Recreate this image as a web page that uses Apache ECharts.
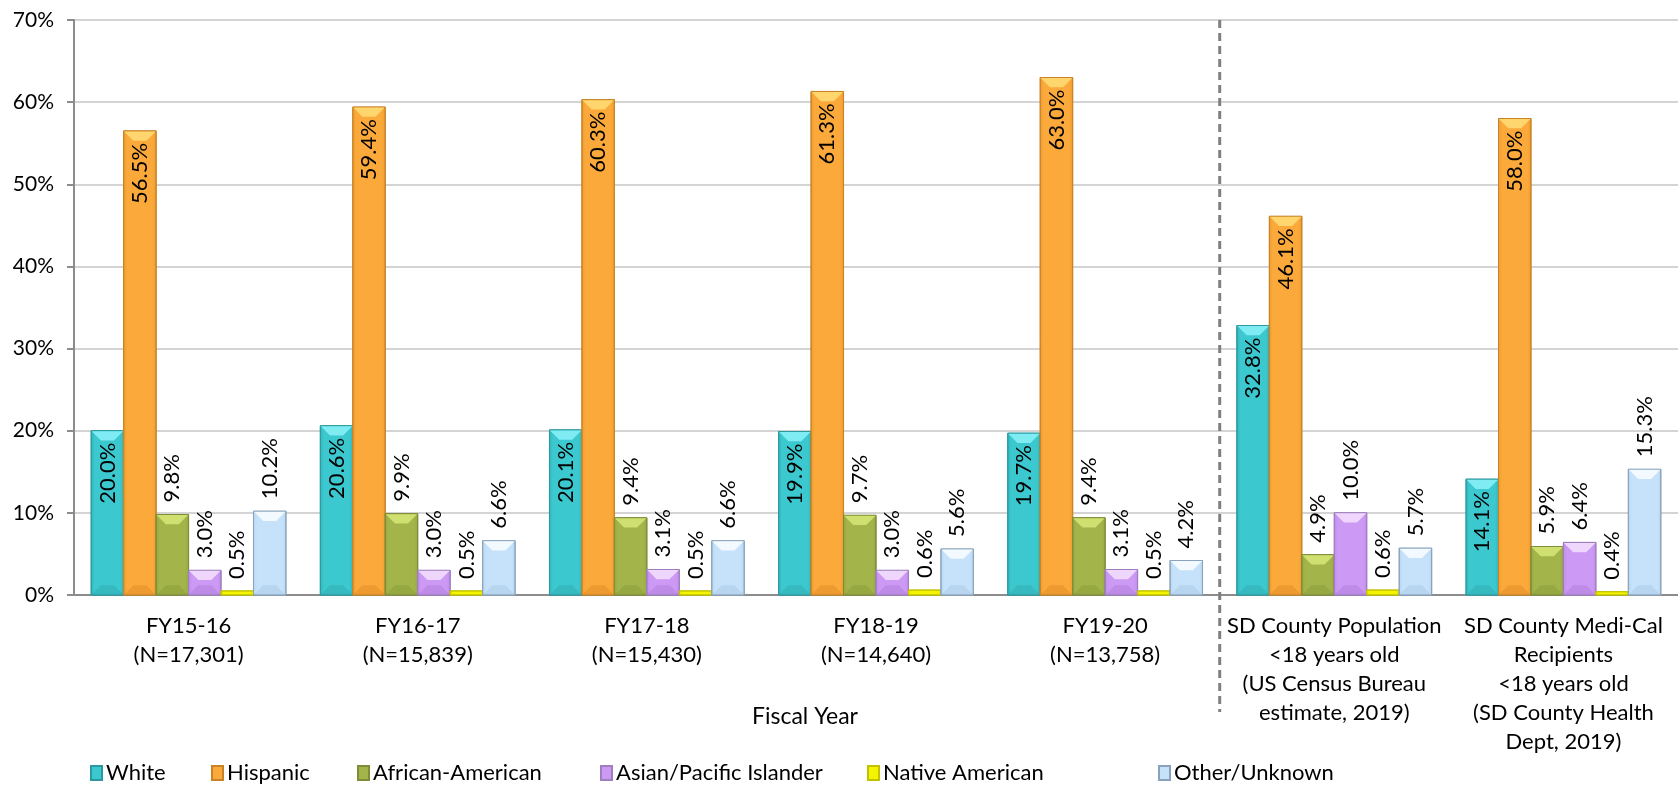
<!DOCTYPE html>
<html>
<head>
<meta charset="utf-8">
<title>Race/Ethnicity by Fiscal Year</title>
<script src="https://cdn.jsdelivr.net/npm/echarts@6/dist/echarts.min.js"></script>
<style>
  html, body { margin: 0; padding: 0; background: #ffffff; }
  #chart { width: 1678px; height: 789px; }
</style>
</head>
<body>
<div id="chart"></div>
<script>
// Categories along the x axis (fiscal years, then county comparison groups)
const categories = [
  'FY15-16\n(N=17,301)',
  'FY16-17\n(N=15,839)',
  'FY17-18\n(N=15,430)',
  'FY18-19\n(N=14,640)',
  'FY19-20\n(N=13,758)',
  'SD County Population\n<18 years old\n(US Census Bureau\nestimate, 2019)',
  'SD County Medi-Cal\nRecipients\n<18 years old\n(SD County Health\nDept, 2019)'
];

// Percent of clients by race/ethnicity
const white         = [20.0, 20.6, 20.1, 19.9, 19.7, 32.8, 14.1];
const hispanic      = [56.5, 59.4, 60.3, 61.3, 63.0, 46.1, 58.0];
const africanAm     = [9.8, 9.9, 9.4, 9.7, 9.4, 4.9, 5.9];
const asianPacific  = [3.0, 3.0, 3.1, 3.0, 3.1, 10.0, 6.4];
const nativeAm      = [0.5, 0.5, 0.5, 0.6, 0.5, 0.6, 0.4];
const otherUnknown  = [10.2, 6.6, 6.6, 5.6, 4.2, 5.7, 15.3];

const seriesNames = ['White', 'Hispanic', 'African-American', 'Asian/Pacific Islander', 'Native American', 'Other/Unknown'];
const seriesValues = [white, hispanic, africanAm, asianPacific, nativeAm, otherUnknown];

// Y axis ticks (percent)
const yMin = 0, yMax = 70, yStep = 10;
const xAxisTitle = 'Fiscal Year';

// Bevel palette per series: body, top facet, bottom facet, edge
const palette = [
  { body: '#3cc8cf', top: '#7eecf2', bottom: '#2fa9b0', edge: '#2a9aa0', dark: '#33b3ba' },
  { body: '#fba93b', top: '#ffd66e', bottom: '#e08e25', edge: '#c98327', dark: '#ee9b2e' },
  { body: '#a3b44a', top: '#cfe070', bottom: '#8a9b37', edge: '#7e8d38', dark: '#97a842' },
  { body: '#cc99f5', top: '#efd6fc', bottom: '#b07ed9', edge: '#9e7fbd', dark: '#bf8ce9' },
  { body: '#f4f400', top: '#ffff66', bottom: '#d6d600', edge: '#c2c200', dark: '#e6e600' },
  { body: '#c6e2fa', top: '#f2f9ff', bottom: '#a9c8e6', edge: '#8aa2bb', dark: '#b8d5f0' }
];

const FONT = 'Lato';
const LABEL_SIZE = 22;

function makeRenderer(si) {
  const pal = palette[si];
  const inside = si < 2;
  return function (params, api) {
    const ci = api.value(0);
    const v = api.value(1);
    const base = api.coord([ci, 0]);
    const topPt = api.coord([ci, v]);
    const cw = api.size([1, 0])[0];
    const bw = cw * 0.85 / 6;
    const x0 = base[0] - 3 * bw + si * bw;
    const x1 = x0 + bw;
    const xc = (x0 + x1) / 2;
    const y0 = topPt[1];
    const y1 = base[1];
    const h = y1 - y0;
    const b = Math.min(bw * 0.3, h / 2);
    const children = [
      {
        type: 'rect',
        shape: { x: x0, y: y0, width: bw, height: h },
        style: {
          fill: new echarts.graphic.LinearGradient(0, 0, 1, 0, [
            { offset: 0, color: pal.dark },
            { offset: 0.12, color: pal.body },
            { offset: 0.88, color: pal.body },
            { offset: 1, color: pal.dark }
          ]),
          stroke: pal.edge,
          lineWidth: 1
        }
      }
    ];
    if (h > 6) {
      children.push({
        type: 'polygon',
        shape: { points: [[x0 + 0.5, y0 + 0.5], [x1 - 0.5, y0 + 0.5], [x1 - b, y0 + b], [x0 + b, y0 + b]] },
        style: { fill: pal.top }
      });
      children.push({
        type: 'polygon',
        shape: { points: [[x0 + 0.5, y1 - 0.5], [x1 - 0.5, y1 - 0.5], [x1 - b, y1 - b], [x0 + b, y1 - b]] },
        style: { fill: pal.bottom, opacity: 0.5 }
      });
    }
    children.push({
      type: 'text',
      x: xc,
      y: inside ? y0 + 12 : y0 - 12,
      rotation: Math.PI / 2,
      style: {
        text: v.toFixed(1) + '%',
        fontSize: LABEL_SIZE,
        fontFamily: FONT,
        fill: '#000000',
        align: inside ? 'right' : 'left',
        verticalAlign: 'middle'
      }
    });
    return { type: 'group', children: children };
  };
}

const series = seriesNames.map(function (name, si) {
  return {
    name: name,
    type: 'custom',
    xAxisIndex: 0,
    yAxisIndex: 0,
    clip: false,
    itemStyle: { color: palette[si].body, borderColor: palette[si].edge, borderWidth: 1 },
    renderItem: makeRenderer(si),
    encode: { x: 0, y: 1 },
    data: seriesValues[si].map(function (val, ci) { return [ci, val]; })
  };
});

// Legend entries, one block per series
const legendLeft = [90, 211, 357, 600, 867, 1158];
const legends = seriesNames.map(function (name, si) {
  return {
    data: [name],
    left: legendLeft[si],
    top: 762,
    padding: 0,
    icon: 'rect',
    itemWidth: 11,
    itemHeight: 14,
    itemGap: 0,
    selectedMode: false,
    textStyle: { fontFamily: FONT, fontSize: 22, color: '#000000', padding: [0, 0, 0, -1] }
  };
});

const chart = echarts.init(document.getElementById('chart'), null, { renderer: 'canvas' });

chart.setOption({
  animation: false,
  backgroundColor: '#ffffff',
  grid: { left: 74, right: 0, top: 20, bottom: 194, containLabel: false },
  legend: legends,
  xAxis: [
    {
      type: 'category',
      data: categories,
      axisLine: { lineStyle: { color: '#8c8c8c', width: 2 } },
      axisTick: { show: false },
      axisLabel: {
        interval: 0,
        margin: 16,
        fontFamily: FONT,
        fontSize: 22,
        lineHeight: 29,
        color: '#000000',
        align: 'center'
      }
    },
    {
      type: 'value',
      min: 0,
      max: categories.length,
      show: false
    }
  ],
  yAxis: {
    type: 'value',
    min: yMin,
    max: yMax,
    interval: yStep,
    axisLine: { show: true, lineStyle: { color: '#8c8c8c', width: 2 } },
    axisTick: { show: true, length: 7, lineStyle: { color: '#8c8c8c', width: 2 } },
    splitLine: { show: true, lineStyle: { color: '#d4d4d4', width: 2 } },
    axisLabel: {
      formatter: '{value}%',
      margin: 20,
      fontFamily: FONT,
      fontSize: 21,
      color: '#000000'
    }
  },
  series: series
});

// Divider between fiscal years and county comparisons, plus axis title
const divX = chart.convertToPixel({ xAxisIndex: 1 }, 5);
const titleX = chart.convertToPixel({ xAxisIndex: 1 }, 3.19);
chart.setOption({
  graphic: [
    {
      type: 'line',
      shape: { x1: divX, y1: 20, x2: divX, y2: 712 },
      style: { stroke: '#808080', lineWidth: 3, lineDash: [8, 5] },
      z: 10
    },
    {
      type: 'text',
      x: titleX,
      y: 717,
      style: {
        text: xAxisTitle,
        fontFamily: FONT,
        fontSize: 23,
        fill: '#000000',
        align: 'center',
        verticalAlign: 'middle'
      }
    }
  ]
});
</script>
</body>
</html>
